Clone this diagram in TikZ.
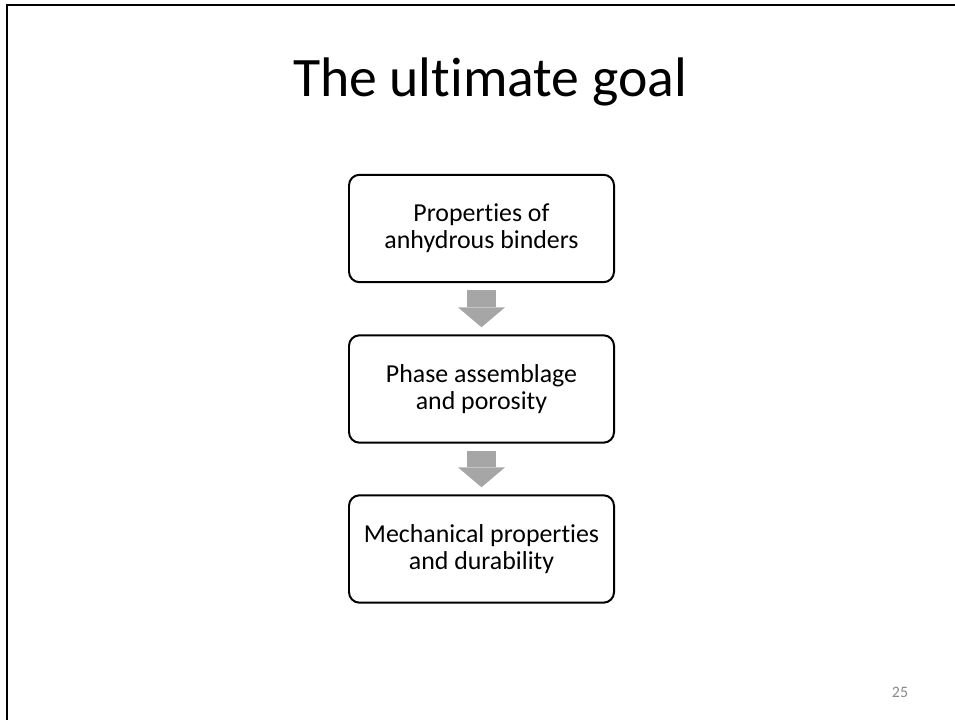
\documentclass[tikz,border=0pt]{standalone}
\usepackage{fontspec}
\setmainfont{Carlito}[Ligatures={NoCommon}]
\usetikzlibrary{calc,arrows.meta}
\definecolor{arrowgray}{RGB}{166,166,166}
\definecolor{numgray}{RGB}{137,137,137}
\tikzset{
  stepbox/.style={draw=black, line width=1.5pt, rounded corners=8pt, minimum width=199.8pt, minimum height=81pt, align=center, font=\fontsize{19.5}{20.5}\selectfont, inner sep=0pt},
  blockarrow/.style={draw=arrowgray, line width=21.9pt, shorten <=5.3pt, shorten >=5.3pt, -{Triangle[width=35.4pt,length=15pt,line width=0pt 0 0]}}
}
\begin{document}
\begin{tikzpicture}[x=0.7539pt,y=-0.7539pt]
\useasboundingbox (0,0) rectangle (955,720);
\draw[line width=1.6pt] (7,720) -- (7,5) -- (955,5);
\node[font=\fontsize{42}{50}\selectfont, anchor=base] (title) at (490,97) {The ultimate goal};
\node[stepbox] (b1) at (481.5,228.5) {Properties of\\anhydrous binders};
\node[stepbox] (b2) at (481.5,389) {Phase assemblage\\and porosity};
\node[stepbox] (b3) at (481.5,549) {Mechanical properties\\and durability};
\draw[blockarrow] (b1) -- (b2);
\draw[blockarrow] (b2) -- (b3);
\node[font=\fontsize{12}{14}\selectfont, text=numgray, anchor=base] (num) at (900,697) {25};
\end{tikzpicture}
\end{document}
